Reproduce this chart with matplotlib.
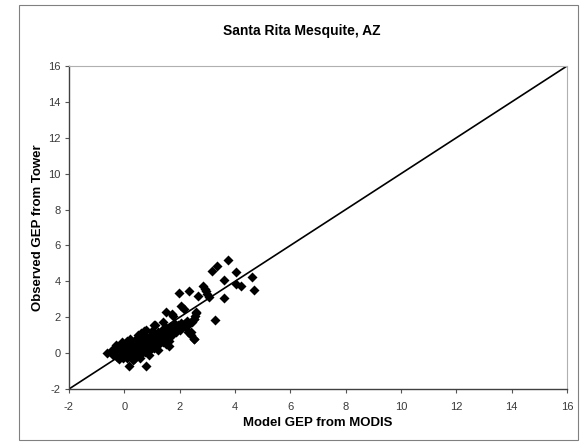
import matplotlib
matplotlib.use("Agg")
import matplotlib.pyplot as plt
from matplotlib.patches import Rectangle

plt.rcParams['font.family'] = ['Liberation Sans', 'DejaVu Sans']
plt.rcParams['axes.unicode_minus'] = False

title = "Santa Rita Mesquite, AZ"
xlabel = "Model GEP from MODIS"
ylabel = "Observed GEP from Tower"
ticks = [-2, 0, 2, 4, 6, 8, 10, 12, 14, 16]
line_x = [-2, 16]
line_y = [-2, 16]

model_gep = [
    -0.62, -0.45, -0.40, -0.35, -0.30, -0.28, -0.25, -0.20, -0.18, -0.15,
    -0.12, -0.10, -0.08, -0.05, 0.00, 0.00, 0.02, 0.05, 0.08, 0.10,
    0.12, 0.15, 0.18, 0.20, 0.22, 0.25, 0.28, 0.30, 0.32, 0.35,
    0.38, 0.40, 0.42, 0.45, 0.48, 0.50, 0.52, 0.55, 0.58, 0.60,
    0.62, 0.65, 0.68, 0.70, 0.72, 0.75, 0.78, 0.80, 0.82, 0.85,
    0.88, 0.90, 0.92, 0.95, 0.98, 1.00, 1.02, 1.05, 1.08, 1.10,
    1.12, 1.15, 1.18, 1.20, 1.22, 1.25, 1.28, 1.30, 1.35, 1.38,
    1.40, 1.45, 1.50, 1.52, 1.55, 1.60, 1.65, 1.70, 1.72, 1.78,
    1.82, 1.88, 1.95, 2.00, 2.05, 2.10, 2.15, 2.20, 2.25, 2.30,
    -0.20, 0.30, 0.55, 0.15, 0.40, 0.60, 1.00, -0.35, 0.05, 0.25,
    0.45, 0.65, 0.85, 1.05, 1.25, 0.18, 0.78, 0.72, 1.08, 1.62,
    2.60, 2.55, 2.50, 2.45, 2.35, 2.30, 2.40, 2.52,
    3.75, 3.36, 3.18, 4.05, 3.60, 4.62, 4.68, 4.02, 4.23, 3.60,
    3.28, 1.98, 2.34, 2.68, 2.85, 2.90, 2.95, 3.00, 3.05, 2.04,
    2.16, 1.50, 1.72, 2.58, 2.52, 2.40, 2.52, 1.62, 0.78, 0.18,
    0.72, 1.08,
    0.50, 0.80, 1.10, 0.20, -0.10, 1.20, 1.50, 0.90, 0.35, 0.62,
    -0.30, 1.40, 1.75, 0.10,
]
observed_gep = [
    0.00, 0.15, -0.10, 0.30, 0.00, -0.20, 0.20, 0.05, -0.15, 0.35,
    0.10, -0.05, 0.25, -0.25, 0.10, 0.40, -0.10, 0.20, -0.30, 0.05,
    0.30, -0.15, 0.50, 0.15, -0.05, 0.35, 0.00, 0.20, -0.20, 0.45,
    0.10, 0.30, -0.10, 0.60, 0.20, 0.00, 0.40, 0.15, 0.70, 0.30,
    -0.05, 0.50, 0.20, 0.80, 0.40, 0.05, 0.60, 0.30, 0.90, 0.50,
    0.15, 0.70, 0.40, 1.00, 0.60, 0.30, 0.85, 0.50, 1.10, 0.70,
    0.40, 0.95, 0.60, 1.20, 0.85, 0.50, 1.05, 0.75, 1.30, 0.95,
    0.60, 1.15, 0.85, 1.40, 1.05, 0.70, 1.25, 1.50, 1.00, 1.35,
    1.60, 1.20, 1.55, 1.30, 1.70, 1.45, 1.65, 1.50, 1.80, 1.60,
    -0.35, -0.40, -0.30, 0.60, 0.75, 0.95, 1.25, -0.05, 0.25, 0.55,
    0.35, 0.10, 0.25, 0.80, 0.95, 0.20, 0.45, 0.15, 0.30, 0.95,
    2.25, 2.05, 1.90, 1.75, 1.60, 1.20, 1.00, 0.80,
    5.21, 4.84, 4.58, 4.50, 4.05, 4.24, 3.49, 3.87, 3.72, 3.07,
    1.87, 3.36, 3.44, 3.21, 3.75, 3.60, 3.45, 3.30, 3.15, 2.65,
    2.46, 2.28, 2.19, 2.28, 1.90, 1.16, 0.78, 0.41, -0.71, -0.71,
    1.25, 1.59,
    1.00, 1.30, 1.55, 0.80, 0.60, 0.20, 0.50, -0.10, -0.35, 1.10,
    0.45, 1.75, 2.05, 0.70,
]

fig = plt.figure(figsize=(5.88, 4.44), dpi=100)
fig.patches.append(Rectangle((19/588, 1-440/444), (578-19)/588, (440-5)/444,
                             transform=fig.transFigure, fill=False,
                             edgecolor='#808080', linewidth=0.8))
L, R, T, B = 69, 567, 66, 389
ax = fig.add_axes([L/588, 1-B/444, (R-L)/588, (B-T)/444])

ax.plot(line_x, line_y, color='black', linewidth=1.2, zorder=2)
ax.scatter(model_gep, observed_gep, marker='D', s=26, color='black',
           linewidths=0, zorder=3)

ax.set_xlim(-2, 16)
ax.set_ylim(-2, 16)
ax.set_xticks(ticks)
ax.set_yticks(ticks)
ax.tick_params(direction='out', length=3, width=0.8, labelsize=8,
               labelcolor='#3a3a3a', color='#555555')
ax.tick_params(axis='x', pad=6)
ax.tick_params(axis='y', pad=3)
for s in ['left', 'bottom']:
    ax.spines[s].set_color('#404040')
    ax.spines[s].set_linewidth(1.0)
for s in ['top', 'right']:
    ax.spines[s].set_color('#b0b0b0')
    ax.spines[s].set_linewidth(0.8)

fig.text((L+R)/2/588, 1-423/444, xlabel, fontsize=9.5, fontweight='bold',
         ha='center', va='center')
fig.text(38/588, 1-(T+B)/2/444, ylabel, fontsize=9.5, fontweight='bold',
         ha='center', va='center', rotation=90)
fig.text(302/588, 1-31/444, title, fontsize=10, fontweight='bold',
         ha='center', va='center')

fig.savefig("out.png", dpi=100)
